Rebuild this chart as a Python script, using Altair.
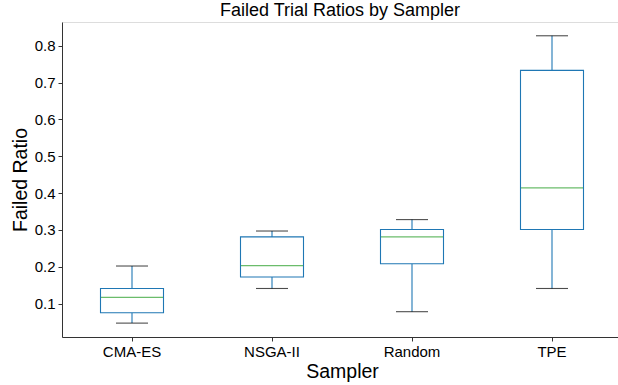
import altair as alt
import pandas as pd

samplers = ["CMA-ES", "NSGA-II", "Random", "TPE"]
whisker_low = [0.047, 0.141, 0.078, 0.141]
q1 = [0.075, 0.172, 0.208, 0.301]
median = [0.117, 0.203, 0.281, 0.414]
q3 = [0.141, 0.281, 0.301, 0.733]
whisker_high = [0.202, 0.297, 0.328, 0.827]

df = pd.DataFrame({
    "Sampler": samplers,
    "low": whisker_low,
    "q1": q1,
    "median": median,
    "q3": q3,
    "high": whisker_high,
})

FONT = "Liberation Sans"
BLUE = "#1f77b4"
GREEN = "#2ca02c"

x_enc = alt.X(
    "Sampler:N",
    sort=samplers,
    scale=alt.Scale(range=[0, 560], paddingInner=0, paddingOuter=0),
    axis=alt.Axis(
        title="Sampler", labelAngle=0, labelFontSize=15, titleFontSize=19.5,
        titleFontWeight="normal", tickSize=4, labelPadding=3, titlePadding=3,
        domainColor="#333", tickColor="#333", labelColor="black", titleColor="black",
        labelFont=FONT, titleFont=FONT,
    ),
)
y_scale = alt.Scale(domain=[0.0093, 0.8644], nice=False, zero=False)
y_axis = alt.Axis(
    title="Failed Ratio", values=[0.1, 0.2, 0.3, 0.4, 0.5, 0.6, 0.7, 0.8], format=".1f",
    labelFontSize=15, titleFontSize=19.5, titleFontWeight="normal", tickSize=4,
    labelPadding=3, titlePadding=4, grid=False, domainColor="#333", tickColor="#333",
    labelColor="black", titleColor="black", labelFont=FONT, titleFont=FONT,
)

base = alt.Chart(df)

lower_whisker = base.mark_rule(color=BLUE, strokeWidth=1.1).encode(
    x=x_enc, y=alt.Y("low:Q", scale=y_scale, axis=y_axis), y2="q1:Q"
)
upper_whisker = base.mark_rule(color=BLUE, strokeWidth=1.1).encode(
    x=x_enc, y=alt.Y("q3:Q", scale=y_scale, axis=y_axis), y2="high:Q"
)
box = base.mark_bar(size=63, fill="white", stroke=BLUE, strokeWidth=1.1).encode(
    x=x_enc, y=alt.Y("q1:Q", scale=y_scale, axis=y_axis), y2="q3:Q"
)
med = base.mark_tick(size=62, thickness=1.1, color=GREEN).encode(
    x=x_enc, y=alt.Y("median:Q", scale=y_scale, axis=y_axis)
)
cap_low = base.mark_tick(size=32, thickness=1.1, color="black").encode(
    x=x_enc, y=alt.Y("low:Q", scale=y_scale, axis=y_axis)
)
cap_high = base.mark_tick(size=32, thickness=1.1, color="black").encode(
    x=x_enc, y=alt.Y("high:Q", scale=y_scale, axis=y_axis)
)

chart = alt.layer(lower_whisker, upper_whisker, box, med, cap_low, cap_high).properties(
    width=556,
    height=315,
    title=alt.TitleParams(
        "Failed Trial Ratios by Sampler", fontSize=18, fontWeight="normal",
        font=FONT, color="black", anchor="middle", baseline="alphabetic", offset=5, dy=17,
    ),
    autosize=alt.AutoSizeParams(type="none"),
    padding={"left": 62, "top": 22, "right": 0, "bottom": 48},
).configure_view(stroke="#333", strokeWidth=1).configure(background="white")

chart.save("out.html", embed_options={"renderer": "svg", "actions": False})
